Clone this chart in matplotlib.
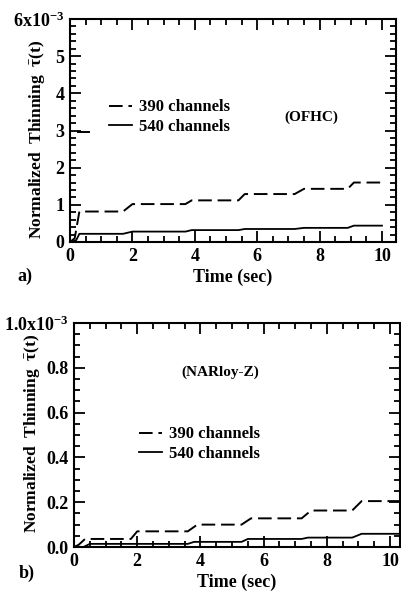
import matplotlib
matplotlib.use("Agg")
import matplotlib.pyplot as plt
from matplotlib.ticker import MultipleLocator, FixedLocator, FixedFormatter

# --- data (values in units of 1e-3) ---
# panel a) OFHC
t_a_390 = [0, 0.15, 0.3, 1.7, 2.0, 3.7, 3.9, 5.4, 5.6, 7.2, 7.5, 8.9, 9.1, 10.0]
v_a_390 = [0, 0.1, 0.82, 0.82, 1.02, 1.02, 1.12, 1.12, 1.29, 1.29, 1.43, 1.43, 1.6, 1.6]
t_a_540 = [0, 0.2, 0.3, 1.7, 2.0, 3.7, 3.9, 5.4, 5.6, 7.2, 7.5, 8.9, 9.1, 10.0]
v_a_540 = [0, 0.05, 0.22, 0.22, 0.28, 0.28, 0.32, 0.32, 0.35, 0.35, 0.38, 0.38, 0.44, 0.44]
t_a_stray = [0.27, 0.62]
v_a_stray = [2.95, 2.95]

# panel b) NARloy-Z
t_b_390 = [0, 0.15, 0.35, 1.8, 2.0, 3.6, 3.9, 5.3, 5.6, 7.2, 7.5, 8.8, 9.1, 10.3]
v_b_390 = [0, 0.01, 0.036, 0.036, 0.07, 0.07, 0.1, 0.1, 0.128, 0.128, 0.163, 0.163, 0.205, 0.205]
t_b_540 = [0, 0.3, 0.5, 3.6, 3.8, 5.3, 5.5, 7.2, 7.4, 8.8, 9.1, 10.3]
v_b_540 = [0, 0.0, 0.014, 0.014, 0.023, 0.023, 0.036, 0.036, 0.042, 0.042, 0.059, 0.059]

yticks_a = [0, 1, 2, 3, 4, 5, 6]
ylabels_a = ["0", "1", "2", "3", "4", "5", r"6x10$^{-3}$"]
yticks_b = [0.0, 0.2, 0.4, 0.6, 0.8, 1.0]
ylabels_b = ["0.0", "0.2", "0.4", "0.6", "0.8", r"1.0x10$^{-3}$"]
xticks = [0, 2, 4, 6, 8, 10]

plt.rcParams['font.family'] = ['Liberation Serif', 'DejaVu Serif']
plt.rcParams['font.weight'] = 'bold'
plt.rcParams['mathtext.fontset'] = 'custom'
plt.rcParams['mathtext.rm'] = 'Liberation Serif:bold'
plt.rcParams['mathtext.it'] = 'Liberation Serif:bold'

fig = plt.figure(figsize=(4.01, 5.94), dpi=100)
ax1 = fig.add_axes([0.1746, 0.5926, 0.813, 0.3754])
ax2 = fig.add_axes([0.1845, 0.0791, 0.812, 0.377])

dash = (7, 3)
leg_font = {'family': 'Liberation Serif', 'weight': 'bold', 'size': 12}


def style_axis(ax, xmax, yticks, ylabels, ymax, yminor, ylab_xy):
    ax.set_xlim(0, xmax)
    ax.set_ylim(0, ymax)
    ax.xaxis.set_major_locator(FixedLocator(xticks))
    ax.xaxis.set_minor_locator(MultipleLocator(0.5))
    ax.yaxis.set_major_locator(FixedLocator(yticks))
    ax.yaxis.set_major_formatter(FixedFormatter(ylabels))
    ax.yaxis.set_minor_locator(MultipleLocator(yminor))
    ax.tick_params(which='both', direction='in', top=True, right=True,
                   width=1.3, labelsize=13)
    ax.tick_params(which='major', length=8, pad=4)
    ax.tick_params(which='minor', length=4)
    for s in ax.spines.values():
        s.set_linewidth(1.5)
    ax.set_xlabel("Time (sec)", fontsize=13, fontweight='bold', labelpad=3)
    ax.set_ylabel(r"Normalized  Thinning  $\bar{\tau}(t)$", fontsize=12.5,
                  fontweight='bold')
    ax.yaxis.set_label_coords(*ylab_xy)


# panel a
ax1.plot(t_a_390, v_a_390, color='black', lw=1.4, dashes=dash, label='390 channels')
ax1.plot(t_a_540, v_a_540, color='black', lw=1.3, label='540 channels')
ax1.plot(t_a_stray, v_a_stray, color='black', lw=1.4)
style_axis(ax1, 10.45, yticks_a, ylabels_a, 6, 0.2, (-0.072, 0.46))
ax1.legend(loc='center left', bbox_to_anchor=(0.12, 0.56), frameon=False,
           handlelength=1.4, handletextpad=0.4, borderpad=0, borderaxespad=0,
           labelspacing=0.2, prop=leg_font)
ax1.text(0.74, 0.56, "(OFHC)", transform=ax1.transAxes, ha='center', va='center',
         fontsize=11, fontweight='bold')
fig.text(0.062, 0.535, "a)", fontsize=13, fontweight='bold', ha='center', va='center')

# panel b
ax2.plot(t_b_390, v_b_390, color='black', lw=1.4, dashes=dash, label='390 channels')
ax2.plot(t_b_540, v_b_540, color='black', lw=1.3, label='540 channels')
style_axis(ax2, 10.3, yticks_b, ylabels_b, 1.0, 0.05, (-0.098, 0.51))
ax2.legend(loc='center left', bbox_to_anchor=(0.2, 0.46), frameon=False,
           handlelength=1.4, handletextpad=0.4, borderpad=0, borderaxespad=0,
           labelspacing=0.2, prop=leg_font)
ax2.text(0.45, 0.78, "(NARloy-Z)", transform=ax2.transAxes, ha='center', va='center',
         fontsize=11, fontweight='bold')
fig.text(0.067, 0.034, "b)", fontsize=13, fontweight='bold', ha='center', va='center')

fig.savefig("out.png", dpi=100)
